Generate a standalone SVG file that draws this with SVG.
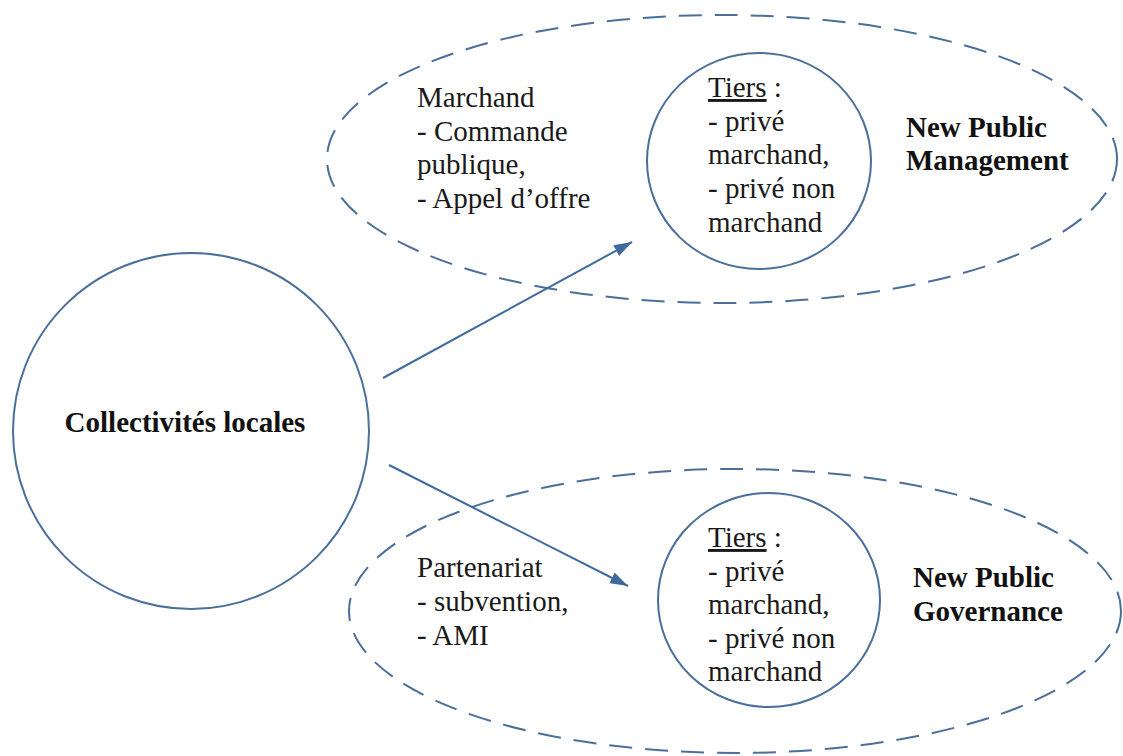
<svg xmlns="http://www.w3.org/2000/svg" width="1123" height="756" viewBox="0 0 1123 756">
<style>
.bg{fill:#ffffff}
.solid{fill:none;stroke:#4a6f9a;stroke-width:2}
.dash{fill:none;stroke:#4a6f9a;stroke-width:2;stroke-dasharray:23 13}
.conn{fill:none;stroke:#3e6a9c;stroke-width:2}
text{font-family:"Liberation Serif","Times New Roman",serif;font-size:29px;fill:#1a1a1a}
.b{font-weight:bold;fill:#111}
</style>
<defs>
<marker id="arrowhead" viewBox="0 0 18 12" refX="18" refY="6" markerWidth="18" markerHeight="12" markerUnits="userSpaceOnUse" orient="auto">
<path d="M0,0 L18,6 L0,12 z" fill="#3e6a9c"/>
</marker>
</defs>
<rect class="bg" x="0" y="0" width="1123" height="756"/>

<g id="npm-zone">
<ellipse class="dash" cx="722" cy="159" rx="395" ry="144"/>
<text x="906" y="137" class="b">New Public</text>
<text x="906" y="170" class="b">Management</text>
</g>

<g id="npm-marchand">
<text x="417" y="107">Marchand</text>
<text x="417" y="141">- Commande</text>
<text x="417" y="174">publique,</text>
<text x="417" y="208">- Appel d’offre</text>
</g>

<g id="npm-tiers">
<ellipse class="solid" cx="759" cy="161" rx="112" ry="108"/>
<text x="708" y="97"><tspan text-decoration="underline">Tiers</tspan> :</text>
<text x="708" y="131">- privé</text>
<text x="708" y="164">marchand,</text>
<text x="708" y="198">- privé non</text>
<text x="708" y="232">marchand</text>
</g>

<g id="npg-zone">
<ellipse class="dash" cx="735" cy="611" rx="386" ry="142"/>
<text x="913" y="587" class="b">New Public</text>
<text x="913" y="621" class="b">Governance</text>
</g>

<g id="npg-partenariat">
<text x="417" y="577">Partenariat</text>
<text x="417" y="611">- subvention,</text>
<text x="417" y="645">- AMI</text>
</g>

<g id="npg-tiers">
<ellipse class="solid" cx="769" cy="600" rx="111" ry="107"/>
<text x="708" y="547"><tspan text-decoration="underline">Tiers</tspan> :</text>
<text x="708" y="581">- privé</text>
<text x="708" y="614">marchand,</text>
<text x="708" y="648">- privé non</text>
<text x="708" y="681">marchand</text>
</g>

<g id="collectivites">
<circle class="solid" cx="191" cy="431" r="178"/>
<text x="185" y="432" class="b" text-anchor="middle">Collectivités locales</text>
</g>

<g id="connectors">
<line class="conn" x1="383" y1="378" x2="632" y2="242" marker-end="url(#arrowhead)"/>
<line class="conn" x1="389" y1="465" x2="628" y2="586" marker-end="url(#arrowhead)"/>
</g>
</svg>
